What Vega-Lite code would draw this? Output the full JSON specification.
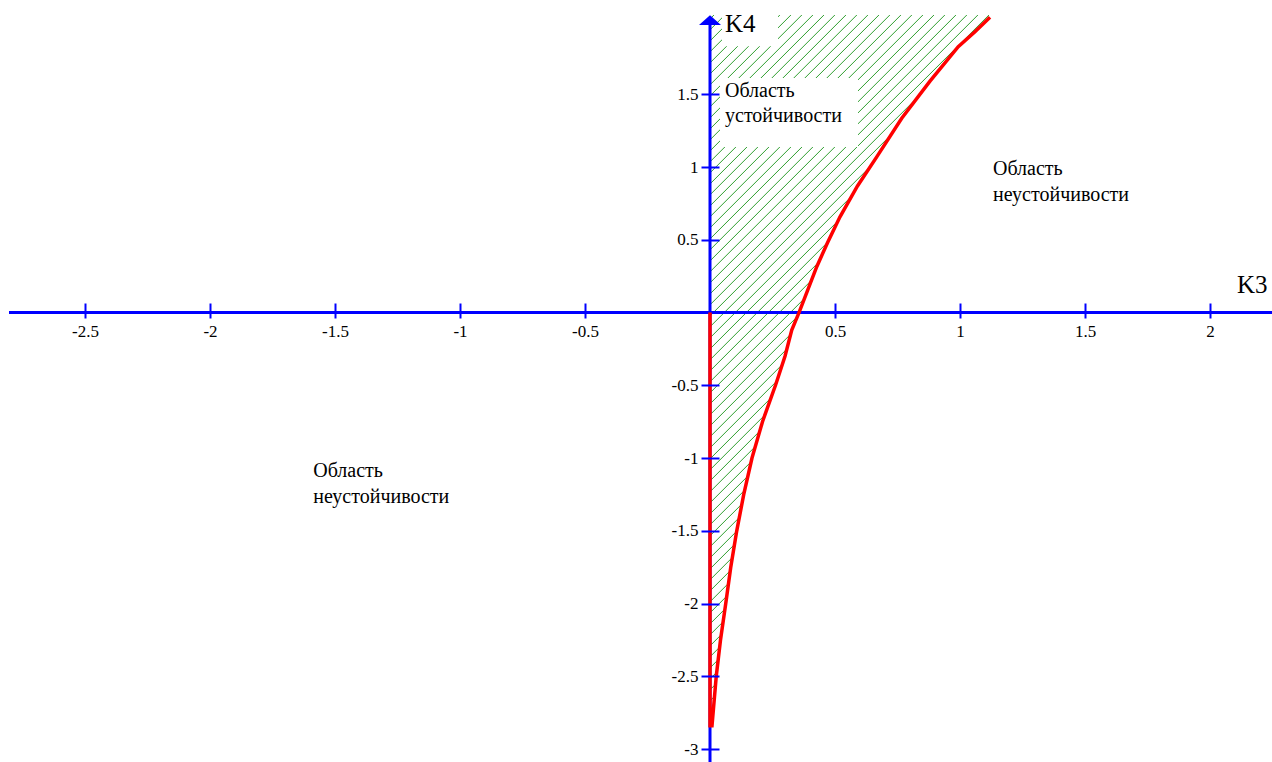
{
  "$schema": "https://vega.github.io/schema/vega-lite/v6.json",
  "width": 1272,
  "height": 747,
  "autosize": {"type": "none"},
  "padding": {"left": 0, "top": 15, "right": 0, "bottom": 0},
  "background": "white",
  "config": {"view": {"stroke": null}},
  "datasets": {
    "hatch": [
      {"y0": -2.820, "y1": -0.887}, {"y0": -2.744, "y1": -0.811}, {"y0": -2.669, "y1": -0.736},
      {"y0": -2.593, "y1": -0.660}, {"y0": -2.518, "y1": -0.585}, {"y0": -2.442, "y1": -0.509},
      {"y0": -2.366, "y1": -0.433}, {"y0": -2.291, "y1": -0.358}, {"y0": -2.215, "y1": -0.282},
      {"y0": -2.140, "y1": -0.207}, {"y0": -2.064, "y1": -0.131}, {"y0": -1.988, "y1": -0.055},
      {"y0": -1.913, "y1": 0.020}, {"y0": -1.837, "y1": 0.096}, {"y0": -1.762, "y1": 0.171},
      {"y0": -1.686, "y1": 0.247}, {"y0": -1.610, "y1": 0.323}, {"y0": -1.535, "y1": 0.398},
      {"y0": -1.459, "y1": 0.474}, {"y0": -1.384, "y1": 0.549}, {"y0": -1.308, "y1": 0.625},
      {"y0": -1.232, "y1": 0.701}, {"y0": -1.157, "y1": 0.776}, {"y0": -1.081, "y1": 0.852},
      {"y0": -1.006, "y1": 0.927}, {"y0": -0.930, "y1": 1.003}, {"y0": -0.854, "y1": 1.079},
      {"y0": -0.779, "y1": 1.154}, {"y0": -0.703, "y1": 1.230}, {"y0": -0.628, "y1": 1.305},
      {"y0": -0.552, "y1": 1.381}, {"y0": -0.476, "y1": 1.457}, {"y0": -0.401, "y1": 1.532},
      {"y0": -0.325, "y1": 1.608}, {"y0": -0.250, "y1": 1.683}, {"y0": -0.174, "y1": 1.759},
      {"y0": -0.098, "y1": 1.835}, {"y0": -0.023, "y1": 1.910}, {"y0": 0.053, "y1": 1.986},
      {"y0": 0.128, "y1": 2.061}, {"y0": 0.204, "y1": 2.137}, {"y0": 0.280, "y1": 2.213},
      {"y0": 0.355, "y1": 2.288}, {"y0": 0.431, "y1": 2.364}, {"y0": 0.506, "y1": 2.439},
      {"y0": 0.582, "y1": 2.515}, {"y0": 0.658, "y1": 2.591}, {"y0": 0.733, "y1": 2.666},
      {"y0": 0.809, "y1": 2.742}, {"y0": 0.884, "y1": 2.817}, {"y0": 0.960, "y1": 2.893},
      {"y0": 1.036, "y1": 2.969}, {"y0": 1.111, "y1": 3.044}, {"y0": 1.187, "y1": 3.120},
      {"y0": 1.262, "y1": 3.195}, {"y0": 1.338, "y1": 3.271}, {"y0": 1.414, "y1": 3.347},
      {"y0": 1.489, "y1": 3.422}, {"y0": 1.565, "y1": 3.498}, {"y0": 1.640, "y1": 3.573},
      {"y0": 1.716, "y1": 3.649}, {"y0": 1.792, "y1": 3.725}, {"y0": 1.867, "y1": 3.800},
      {"y0": 1.943, "y1": 3.876}, {"y0": 2.018, "y1": 3.951}
    ],
    "boundary": [
      {"i": 0, "x": 0, "y": 0},
      {"i": 1, "x": 0, "y": -2.84},
      {"i": 2, "x": 0.008, "y": -2.84},
      {"i": 3, "x": 0.015, "y": -2.7},
      {"i": 4, "x": 0.025, "y": -2.5},
      {"i": 5, "x": 0.042, "y": -2.25},
      {"i": 6, "x": 0.063, "y": -2.0},
      {"i": 7, "x": 0.083, "y": -1.75},
      {"i": 8, "x": 0.107, "y": -1.5},
      {"i": 9, "x": 0.135, "y": -1.25},
      {"i": 10, "x": 0.168, "y": -1.0},
      {"i": 11, "x": 0.21, "y": -0.75},
      {"i": 12, "x": 0.262, "y": -0.5},
      {"i": 13, "x": 0.30, "y": -0.3},
      {"i": 14, "x": 0.327, "y": -0.12},
      {"i": 15, "x": 0.356, "y": 0},
      {"i": 16, "x": 0.39, "y": 0.15},
      {"i": 17, "x": 0.427, "y": 0.315},
      {"i": 18, "x": 0.47, "y": 0.48},
      {"i": 19, "x": 0.52, "y": 0.658},
      {"i": 20, "x": 0.59, "y": 0.87},
      {"i": 21, "x": 0.667, "y": 1.07},
      {"i": 22, "x": 0.767, "y": 1.335},
      {"i": 23, "x": 0.88, "y": 1.59},
      {"i": 24, "x": 0.993, "y": 1.827},
      {"i": 25, "x": 1.06, "y": 1.93},
      {"i": 26, "x": 1.12, "y": 2.03}
    ],
    "boxes": [
      {"x": 0.048, "x2": 0.272, "y": 1.83, "y2": 2.1},
      {"x": 0.04, "x2": 0.592, "y": 1.137, "y2": 1.612}
    ],
    "axislines": [
      {"x": -2.804, "x2": 2.25, "y": 0, "y2": 0},
      {"x": 0, "x2": 0, "y": -3.09, "y2": 1.98}
    ],
    "arrow": [{"x": 0, "y": 2.01}],
    "bigLabels": [
      {"text": "K4", "x": 0.06, "y": 1.928},
      {"text": "K3", "x": 2.108, "y": 0.134}
    ],
    "regionLabels": [
      {"text": "Область", "x": 0.06, "y": 1.481},
      {"text": "устойчивости", "x": 0.06, "y": 1.309},
      {"text": "Область", "x": 1.132, "y": 0.945},
      {"text": "неустойчивости", "x": 1.132, "y": 0.766},
      {"text": "Область", "x": -1.587, "y": -1.129},
      {"text": "неустойчивости", "x": -1.587, "y": -1.309}
    ]
  },
  "layer": [
    {
      "data": {"name": "hatch"},
      "mark": {"type": "rule", "color": "#2f9e2f", "strokeWidth": 1, "clip": true},
      "encoding": {
        "x": {"datum": 0, "type": "quantitative", "title": null},
        "x2": {"datum": 1.125},
        "y": {"field": "y0", "type": "quantitative", "title": null},
        "y2": {"field": "y1"}
      }
    },
    {
      "data": {"name": "boundary"},
      "transform": [{"filter": "datum.i >= 2"}],
      "mark": {"type": "area", "orient": "horizontal", "color": "white", "opacity": 1, "clip": true},
      "encoding": {
        "y": {"field": "y", "type": "quantitative", "title": null},
        "x": {"field": "x", "type": "quantitative", "title": null},
        "x2": {"datum": 2.4}
      }
    },
    {
      "data": {"name": "boxes"},
      "mark": {"type": "rect", "color": "white", "opacity": 1},
      "encoding": {
        "x": {"field": "x", "type": "quantitative", "title": null},
        "x2": {"field": "x2"},
        "y": {"field": "y", "type": "quantitative", "title": null},
        "y2": {"field": "y2"}
      }
    },
    {
      "data": {"name": "axislines"},
      "mark": {"type": "rule", "color": "#0000ff", "strokeWidth": 3},
      "encoding": {
        "x": {"field": "x", "type": "quantitative", "title": null},
        "x2": {"field": "x2"},
        "y": {"field": "y", "type": "quantitative", "title": null},
        "y2": {"field": "y2"}
      }
    },
    {
      "data": {"name": "boundary"},
      "mark": {"type": "line", "color": "#ff0000", "strokeWidth": 3.5, "clip": true},
      "encoding": {
        "x": {
          "field": "x", "type": "quantitative", "title": null,
          "scale": {"domain": [-2.84, 2.248], "nice": false, "zero": false},
          "axis": {
            "orient": "bottom", "offset": -459,
            "values": [-2.5, -2, -1.5, -1, -0.5, 0.5, 1, 1.5, 2],
            "domain": false, "grid": false, "ticks": true,
            "tickColor": "#0000ff", "tickWidth": 2, "tickSize": 15,
            "labelPadding": 5, "labelFont": "Liberation Serif", "labelFontSize": 17,
            "labelColor": "#000000", "labelExpr": "'' + datum.value",
            "labelFlush": false, "labelOverlap": false, "labelBound": false,
            "zindex": 1, "title": null
          }
        },
        "y": {
          "field": "y", "type": "quantitative", "title": null,
          "scale": {"domain": [-3.089, 2.045], "nice": false, "zero": false},
          "axis": {
            "orient": "left", "offset": -719,
            "values": [-3, -2.5, -2, -1.5, -1, -0.5, 0.5, 1, 1.5],
            "domain": false, "grid": false, "ticks": true,
            "tickColor": "#0000ff", "tickWidth": 2, "tickSize": 18,
            "labelPadding": 3, "labelFont": "Liberation Serif", "labelFontSize": 17,
            "labelColor": "#000000", "labelExpr": "'' + datum.value",
            "labelFlush": false, "labelOverlap": false, "labelBound": false,
            "zindex": 1, "title": null
          }
        },
        "order": {"field": "i", "type": "quantitative"}
      }
    },
    {
      "data": {"name": "arrow"},
      "mark": {"type": "point", "shape": "M0,-0.45L1,0.45L-1,0.45Z", "size": 484, "filled": true, "color": "#0000ff", "opacity": 1, "strokeWidth": 0},
      "encoding": {
        "x": {"field": "x", "type": "quantitative", "title": null},
        "y": {"field": "y", "type": "quantitative", "title": null}
      }
    },
    {
      "data": {"name": "bigLabels"},
      "mark": {"type": "text", "align": "left", "baseline": "alphabetic", "font": "Liberation Serif", "fontSize": 25, "color": "#000000"},
      "encoding": {
        "x": {"field": "x", "type": "quantitative", "title": null},
        "y": {"field": "y", "type": "quantitative", "title": null},
        "text": {"field": "text"}
      }
    },
    {
      "data": {"name": "regionLabels"},
      "mark": {"type": "text", "align": "left", "baseline": "alphabetic", "font": "Liberation Serif", "fontSize": 20, "color": "#000000"},
      "encoding": {
        "x": {"field": "x", "type": "quantitative", "title": null},
        "y": {"field": "y", "type": "quantitative", "title": null},
        "text": {"field": "text"}
      }
    }
  ]
}
